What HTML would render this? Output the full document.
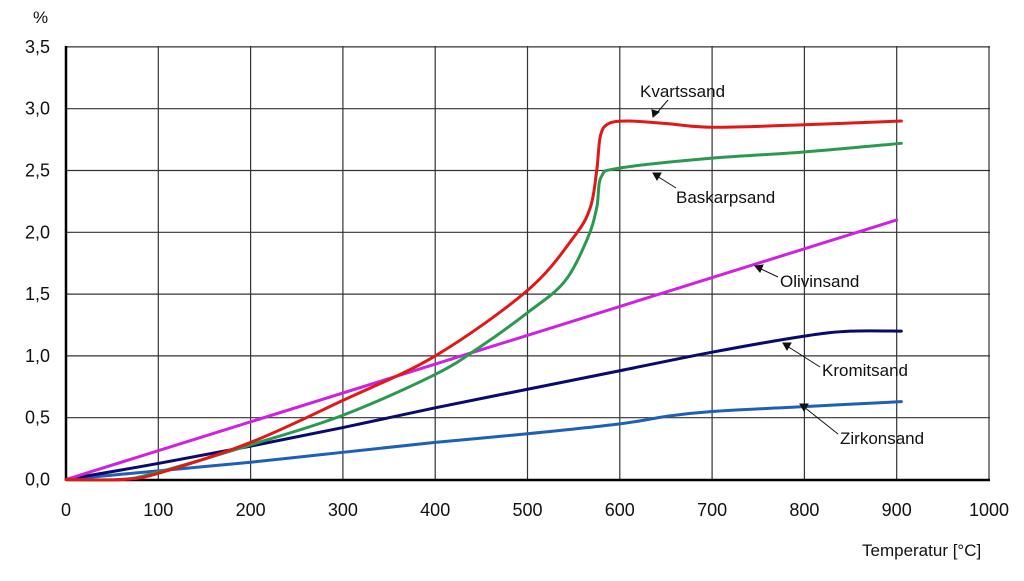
<!DOCTYPE html>
<html><head><meta charset="utf-8"><style>
body{margin:0;background:#fff;}
text{font-family:"Liberation Sans",sans-serif;fill:#111;}
</style></head><body>
<svg id="s" width="1024" height="576" xmlns="http://www.w3.org/2000/svg">
<g id="grid" stroke="#333" stroke-width="1.2"></g>
<line x1="66" y1="46" x2="66" y2="480" stroke="#000" stroke-width="2.5"/>
<line x1="66" y1="480" x2="990" y2="480" stroke="#000" stroke-width="2.5"/>
<g id="lab" font-size="18"></g>
<g id="ser" fill="none" stroke-width="3" stroke-linejoin="round" stroke-linecap="round"></g>
<g font-size="17">
<text x="640" y="97">Kvartssand</text>
<text x="676" y="203">Baskarpsand</text>
<text x="780" y="287">Olivinsand</text>
<text x="822" y="376">Kromitsand</text>
<text x="840" y="444">Zirkonsand</text>
<text x="862" y="556">Temperatur [°C]</text>
<text x="33" y="23">%</text>
</g>
<g stroke="#111" stroke-width="1">
<line x1="668" y1="100" x2="656" y2="114"/><polygon points="653,117 652,110 659,112" fill="#111"/>
<line x1="676" y1="188" x2="657" y2="176"/><polygon points="653,173 661,173 657,180" fill="#111"/>
<line x1="778" y1="277" x2="759" y2="268"/><polygon points="755,266 763,265 760,272" fill="#111"/>
<line x1="820" y1="367" x2="787" y2="346"/><polygon points="783,343 791,343 787,350" fill="#111"/>
<line x1="838" y1="434" x2="804" y2="407"/><polygon points="800,404 808,404 804,411" fill="#111"/>
</g>
</svg>
<script>
const X=t=>66+0.923*t, Y=v=>479.5-123.6*v;
const ns="http://www.w3.org/2000/svg";
function el(p,tag,a,txt){const e=document.createElementNS(ns,tag);for(const k in a)e.setAttribute(k,a[k]);if(txt!==undefined)e.textContent=txt;p.appendChild(e);}
const g=document.getElementById('grid'),lab=document.getElementById('lab');
for(let t=100;t<=1000;t+=100)el(g,'line',{x1:X(t),y1:46,x2:X(t),y2:480});
for(let i=1;i<=7;i++)el(g,'line',{x1:66,y1:Y(i*0.5),x2:990,y2:Y(i*0.5)});
for(let t=0;t<=1000;t+=100)el(lab,'text',{x:X(t),y:516,'text-anchor':'middle'},String(t));
for(let i=0;i<=7;i++)el(lab,'text',{x:50,y:Y(i*0.5)+6,'text-anchor':'end'},(i*0.5).toFixed(1).replace('.',','));
const S=document.getElementById('ser');
function cr(pts){let d='M'+pts[0].join(',');for(let i=0;i<pts.length-1;i++){const p0=pts[Math.max(0,i-1)],p1=pts[i],p2=pts[i+1],p3=pts[Math.min(pts.length-1,i+2)];const c1=[p1[0]+(p2[0]-p0[0])/6,p1[1]+(p2[1]-p0[1])/6],c2=[p2[0]-(p3[0]-p1[0])/6,p2[1]-(p3[1]-p1[1])/6];d+=`C${c1},${c2},${p2}`;}return d;}
function line(data,col){el(S,'path',{d:cr(data.map(([t,v])=>[X(t),Y(v)])),stroke:col});}
line([[0,0],[100,0.07],[200,0.14],[300,0.22],[400,0.3],[500,0.37],[600,0.45],[650,0.51],[700,0.55],[800,0.59],[905,0.63]],'#1f5fb8');
line([[0,0],[100,0.13],[200,0.27],[300,0.42],[400,0.58],[500,0.73],[600,0.88],[700,1.03],[800,1.16],[850,1.2],[905,1.2]],'#0a0a6e');
line([[0,0],[900,2.1]],'#d020e0');
line([[0,0],[60,0],[100,0.06],[200,0.28],[300,0.52],[400,0.85],[450,1.08],[500,1.35],[540,1.6],[565,1.95],[575,2.2],[580,2.45],[600,2.52],[700,2.6],[800,2.65],[905,2.72]],'#2a9a50');
line([[0,0],[60,0],[100,0.05],[200,0.3],[300,0.64],[400,1.0],[500,1.53],[550,1.96],[568,2.2],[575,2.5],[579,2.78],[588,2.88],[610,2.9],[650,2.88],[700,2.85],[800,2.87],[905,2.9]],'#e01818');
</script>
</body></html>
